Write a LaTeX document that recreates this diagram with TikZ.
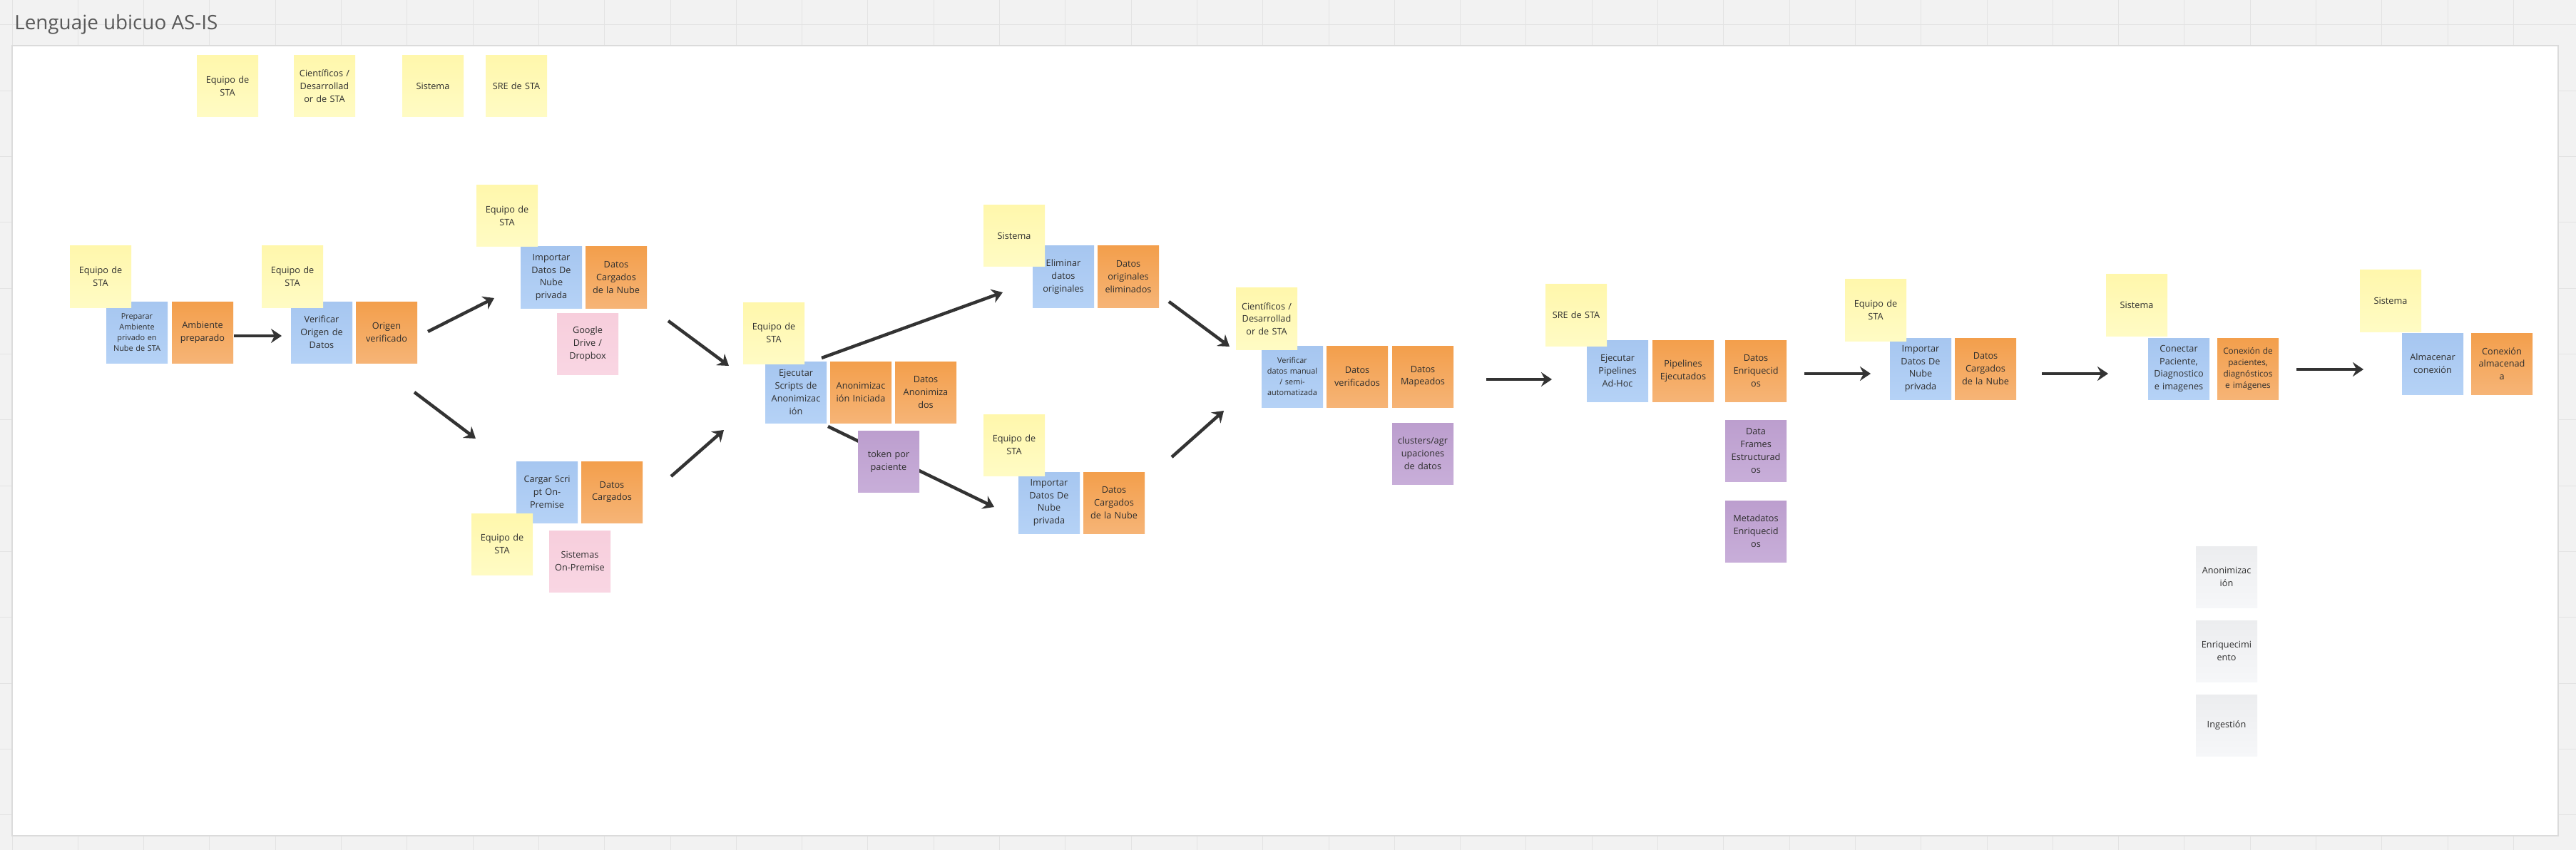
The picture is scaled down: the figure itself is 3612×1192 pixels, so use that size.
\documentclass[tikz,border=0pt]{standalone}
\usepackage{fontspec}
\setmainfont{Open Sans}
\usetikzlibrary{arrows.meta}
\pgfdeclarelayer{shadowlayer}
\pgfsetlayers{shadowlayer,main}
\definecolor{yelT}{HTML}{FFF7AC}\definecolor{yelB}{HTML}{FFFBC4}
\definecolor{bluT}{HTML}{A6C6F0}\definecolor{bluB}{HTML}{B5D2F6}
\definecolor{orT}{HTML}{F39F4C}\definecolor{orB}{HTML}{F6B476}
\definecolor{pinT}{HTML}{F7CEDC}\definecolor{pinB}{HTML}{F9D6E3}
\definecolor{purT}{HTML}{BC9ECE}\definecolor{purB}{HTML}{C8AED9}
\definecolor{gryT}{HTML}{ECEDEF}\definecolor{gryB}{HTML}{F6F7F9}
\definecolor{gridbg}{HTML}{F2F2F2}\definecolor{gridln}{HTML}{E3E3E3}
\definecolor{titlegray}{HTML}{595959}
\definecolor{arrowgray}{HTML}{333333}
\newcommand{\stkN}{\fontsize{6.35pt}{8.9pt}\selectfont}
\newcommand{\stkS}{\fontsize{5.45pt}{7.45pt}\selectfont}
\newcommand{\stkM}{\fontsize{5.9pt}{8pt}\selectfont}
\tikzset{
  sticky/.style={minimum width=43pt, minimum height=43pt, inner sep=0pt,
    text width=43pt, align=center, font=\stkN, text=black!82,
    append after command={\pgfextra{\begin{pgfonlayer}{shadowlayer}
      \shade[top color=black!45, bottom color=white]
        ([xshift=3pt,yshift=1pt]\tikzlastnode.south west) rectangle
        ([xshift=-2pt,yshift=-5.5pt]\tikzlastnode.south east);
      \end{pgfonlayer}}}},
  yel/.style={sticky, top color=yelT, bottom color=yelB},
  blu/.style={sticky, top color=bluT, bottom color=bluB},
  ora/.style={sticky, top color=orT, bottom color=orB},
  pin/.style={sticky, top color=pinT, bottom color=pinB},
  pur/.style={sticky, top color=purT, bottom color=purB},
  gry/.style={sticky, top color=gryT, bottom color=gryB},
  flow/.style={line width=2.25pt, draw=arrowgray,
    -{Stealth[length=7.5pt, width=10pt, inset=2.5pt]}},
}
\begin{document}
\begin{tikzpicture}[x=0.5pt,y=-0.5pt]
\useasboundingbox (0,0) rectangle (3612,1192);
% canvas grid
\fill[gridbg] (0,0) rectangle (3612,1192);
\foreach \i in {0,...,39} \draw[gridln, line width=0.5pt] ({17+92.3*\i},0) -- ({17+92.3*\i},1192);
\foreach \j in {0,...,12} \draw[gridln, line width=0.5pt] (0,{35+92.3*\j}) -- (3612,{35+92.3*\j});
\draw[draw=black!14, fill=white, line width=0.8pt] (17,64) rectangle (3587,1172);
\node[anchor=base west, font=\fontsize{13.9pt}{16pt}\selectfont, text=titlegray, inner sep=0pt] (title) at (20,42) {Lenguaje ubicuo AS-IS};

% arrows
\coordinate (a1s) at (328,471);  \coordinate (a1e) at (395,471);
\coordinate (a2s) at (600,465);  \coordinate (a2e) at (693,418);
\coordinate (a3s) at (581,550);  \coordinate (a3e) at (667,615);
\coordinate (a4s) at (937,450);  \coordinate (a4e) at (1022,513);
\coordinate (a5s) at (941,668);  \coordinate (a5e) at (1015,603);
\coordinate (a6s) at (1152,502); \coordinate (a6e) at (1406,410);
\coordinate (a7s) at (1161,598); \coordinate (a7e) at (1394,711);
\coordinate (a8s) at (1639,423); \coordinate (a8e) at (1724,486);
\coordinate (a9s) at (1643,641); \coordinate (a9e) at (1716,576);
\coordinate (a10s) at (2084,532); \coordinate (a10e) at (2176,532);
\coordinate (a11s) at (2530,524); \coordinate (a11e) at (2623,524);
\coordinate (a12s) at (2863,524); \coordinate (a12e) at (2956,524);
\coordinate (a13s) at (3220,518); \coordinate (a13e) at (3314,518);
\foreach \k in {1,...,13} \draw[flow] (a\k s) -- (a\k e);

% legend
\node[yel] (l1) at (319,121) {Equipo de\\STA};
\node[yel] (l2) at (455,121) {Científicos /\\Desarrollad\\or de STA};
\node[yel] (l3) at (607,121) {Sistema};
\node[yel] (l4) at (724,121) {SRE de STA};

% step 1
\node[blu, font=\stkS] (b1) at (192,466) {Preparar\\Ambiente\\privado en\\Nube de STA};
\node[ora] (o1) at (284,466) {Ambiente\\preparado};
\node[yel] (y1) at (141,388) {Equipo de\\STA};
% step 2
\node[blu] (b2) at (451,466) {Verificar\\Origen de\\Datos};
\node[ora] (o2) at (542,466) {Origen\\verificado};
\node[yel] (y2) at (410,388) {Equipo de\\STA};
% step 3 upper
\node[blu] (b3) at (773,389) {Importar\\Datos De\\Nube\\privada};
\node[ora] (o3) at (864,389) {Datos\\Cargados\\de la Nube};
\node[pin] (p3) at (824,482) {Google\\Drive /\\Dropbox};
\node[yel] (y3) at (711,303) {Equipo de\\STA};
% step 3 lower
\node[blu] (b4) at (767,690) {Cargar Scri\\pt On-\\Premise};
\node[ora] (o4) at (858,690) {Datos\\Cargados};
\node[pin] (p4) at (813,787) {Sistemas\\On-Premise};
\node[yel] (y4) at (704,763) {Equipo de\\STA};
% step 4
\node[blu] (b5) at (1116,550) {Ejecutar\\Scripts de\\Anonimizac\\ión};
\node[ora] (o5a) at (1207,550) {Anonimizac\\ión Iniciada};
\node[ora] (o5b) at (1298,550) {Datos\\Anonimiza\\dos};
\node[pur] (v5) at (1246,647) {token por\\paciente};
\node[yel] (y5) at (1085,467) {Equipo de\\STA};
% step 5 upper
\node[blu] (b6) at (1491,388) {Eliminar\\datos\\originales};
\node[ora] (o6) at (1582,388) {Datos\\originales\\eliminados};
\node[yel] (y6) at (1422,331) {Sistema};
% step 5 lower
\node[blu] (b8) at (1471,705) {Importar\\Datos De\\Nube\\privada};
\node[ora] (o8) at (1562,705) {Datos\\Cargados\\de la Nube};
\node[yel] (y8) at (1422,624) {Equipo de\\STA};
% step 6
\node[blu, font=\stkS] (b7) at (1812,528) {Verificar\\datos manual\\/ semi-\\automatizada};
\node[ora] (o7a) at (1903,528) {Datos\\verificados};
\node[ora] (o7b) at (1995,528) {Datos\\Mapeados};
\node[pur] (v7) at (1995,636) {clusters/agr\\upaciones\\de datos};
\node[yel] (y7) at (1776,447) {Científicos /\\Desarrollad\\or de STA};
% step 7
\node[blu] (b9) at (2268,520) {Ejecutar\\Pipelines\\Ad-Hoc};
\node[ora] (o9a) at (2360,520) {Pipelines\\Ejecutados};
\node[ora] (o9b) at (2462,520) {Datos\\Enriquecid\\os};
\node[pur] (v9a) at (2462,632) {Data\\Frames\\Estructurad\\os};
\node[pur] (v9b) at (2462,745) {Metadatos\\Enriquecid\\os};
\node[yel] (y9) at (2210,442) {SRE de STA};
% step 8
\node[blu] (b10) at (2693,517) {Importar\\Datos De\\Nube\\privada};
\node[ora] (o10) at (2784,517) {Datos\\Cargados\\de la Nube};
\node[yel] (y10) at (2630,435) {Equipo de\\STA};
% step 9
\node[blu] (b11) at (3055,517) {Conectar\\Paciente,\\Diagnostico\\e imagenes};
\node[ora, font=\stkM] (o11) at (3152,517) {Conexión de\\pacientes,\\diagnósticos\\e imágenes};
\node[yel] (y11) at (2996,428) {Sistema};
% step 10
\node[blu] (b12) at (3411,510) {Almacenar\\conexión};
\node[ora] (o12) at (3508,510) {Conexión\\almacenad\\a};
\node[yel] (y12) at (3352,422) {Sistema};
% phase labels
\node[gry] (g1) at (3122,809) {Anonimizac\\ión};
\node[gry] (g2) at (3122,913) {Enriquecimi\\ento};
\node[gry] (g3) at (3122,1017) {Ingestión};
\end{tikzpicture}
\end{document}
